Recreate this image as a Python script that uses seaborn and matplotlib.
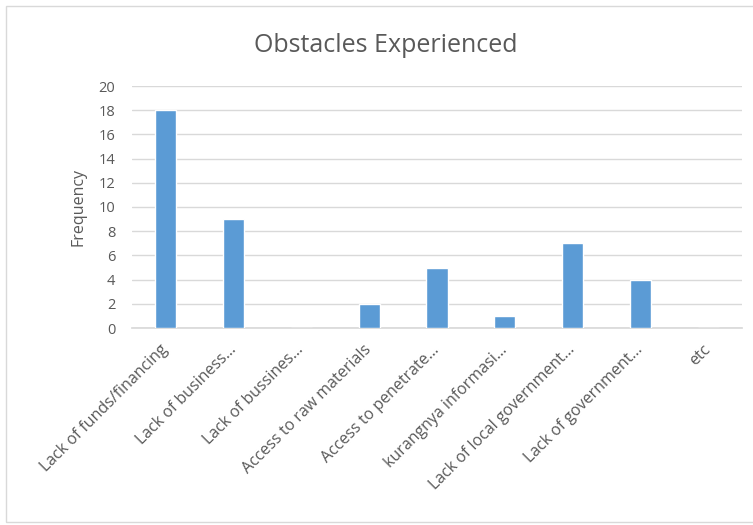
import matplotlib
matplotlib.use("Agg")
import matplotlib.pyplot as plt
import seaborn as sns
import pandas as pd
from matplotlib.patches import Rectangle

# data
categories = ["Lack of funds/financing", "Lack of business...", "Lack of bussines...",
              "Access to raw materials", "Access to penetrate...", "kurangnya informasi...",
              "Lack of local government...", "Lack of government...", "etc"]
frequency = [18, 9, 0, 2, 5, 1, 7, 4, 0]

df = pd.DataFrame({"Obstacle": categories, "Frequency": frequency})

sns.set_theme(style="white")
plt.rcParams["font.family"] = ["Open Sans", "DejaVu Sans"]
text_col = "#595959"

fig = plt.figure(figsize=(7.53, 5.25), dpi=100)
ax = fig.add_axes([132 / 753, 1 - 328 / 525, 610 / 753, 242 / 525])

sns.barplot(data=df, x="Obstacle", y="Frequency", color="#5B9BD5", width=0.31,
            saturation=1, ax=ax, zorder=3)

ax.set_ylim(0, 20)
ax.set_yticks(range(0, 21, 2))
ax.yaxis.grid(True, color="#D9D9D9", linewidth=1, zorder=0)
ax.set_axisbelow(True)
for s in ["top", "right", "left"]:
    ax.spines[s].set_visible(False)
ax.spines["bottom"].set_color("#D9D9D9")
ax.tick_params(axis="y", length=0, colors=text_col, labelsize=10.5, pad=12)
ax.tick_params(axis="x", length=0, colors=text_col, labelsize=11.5, pad=14)
plt.setp(ax.get_xticklabels(), rotation=45, ha="right", va="center",
         rotation_mode="anchor")
ax.set_xlabel("")
ax.set_ylabel("Frequency", color=text_col, fontsize=11.5, labelpad=9)
ax.set_title("")
fig.text(386 / 753, 1 - 45 / 525, "Obstacles Experienced", color=text_col,
         fontsize=18, ha="center", va="center")

# chart frame
fig.patches.append(Rectangle((0.008, 0.006), 1.2, 0.982, transform=fig.transFigure,
                             fill=False, edgecolor="#D9D9D9", linewidth=1))

fig.savefig("out.png", dpi=100)
